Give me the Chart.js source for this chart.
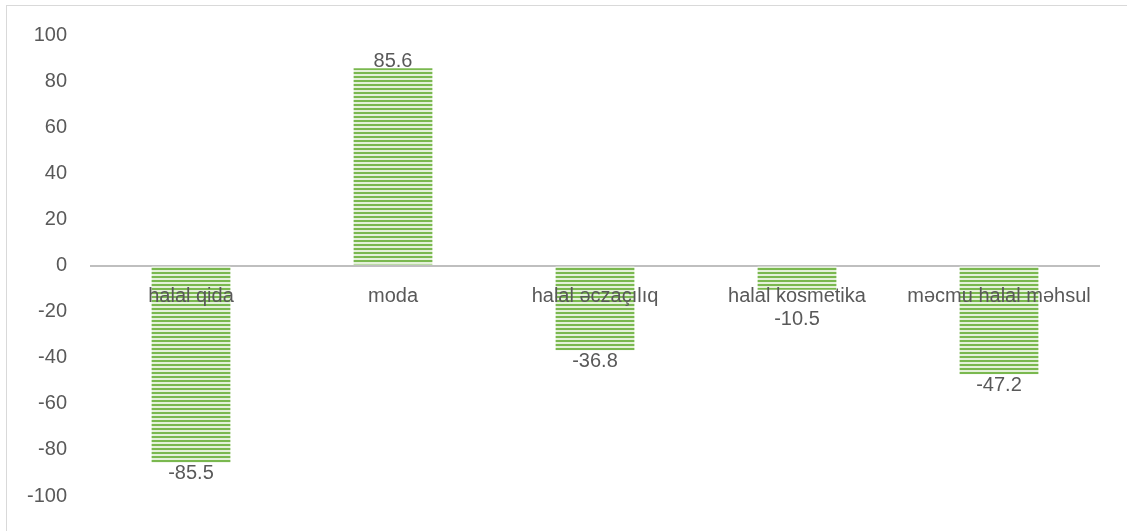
<!DOCTYPE html>
<html>
<head>
<meta charset="utf-8">
<script src="https://cdn.jsdelivr.net/npm/chart.js@4"></script>
<style>
  html, body { margin: 0; padding: 0; background: #fff; overflow: hidden; }
  #wrap { width: 1127px; height: 531px; overflow: hidden; }
  canvas { display: block; }
</style>
</head>
<body>
<div id="wrap"><canvas id="chart" width="1127" height="531"></canvas></div>
<script>
const categories = ["halal qida", "moda", "halal əczaçılıq", "halal kosmetika", "məcmu halal məhsul"];
const values = [-85.5, 85.6, -36.8, -10.5, -47.2];
const yTicks = [100, 80, 60, 40, 20, 0, -20, -40, -60, -80, -100];

const FONT = "'Liberation Sans', Arial, sans-serif";
const TEXT = "#595959";

// striped fill like the original
function stripes() {
  const c = document.createElement("canvas");
  c.width = 4; c.height = 4;
  const g = c.getContext("2d");
  g.fillStyle = "#e4f1da";
  g.fillRect(0, 0, 4, 4);
  g.fillStyle = "#7ab84f";
  g.fillRect(0, 0, 4, 2);
  return g.createPattern(c, "repeat");
}

const frame = {
  id: "frame",
  beforeDraw(chart) {
    const ctx = chart.ctx;
    ctx.save();
    ctx.strokeStyle = "#d9d9d9";
    ctx.lineWidth = 1;
    ctx.strokeRect(6.5, 5.5, 1200, 600);
    ctx.restore();
  },
  afterDatasetsDraw(chart) {
    const ctx = chart.ctx;
    const meta = chart.getDatasetMeta(0);
    const zero = chart.scales.y.getPixelForValue(0);
    ctx.save();
    ctx.font = "20px " + FONT;
    ctx.fillStyle = TEXT;
    ctx.textAlign = "center";
    // category names sit on top of the bars, just under the zero line
    ctx.textBaseline = "middle";
    meta.data.forEach((bar, i) => {
      ctx.fillText(categories[i], bar.x, zero + 31);
    });
    // value labels at the bar ends
    meta.data.forEach((bar, i) => {
      const v = values[i];
      if (v >= 0) {
        ctx.textBaseline = "bottom";
        ctx.fillText(v.toFixed(1), bar.x, bar.y + 3);
      } else {
        ctx.textBaseline = "top";
        let y = bar.y + 1;
        if (y < zero + 44) y = zero + 44; // keep clear of the category name
        ctx.fillText(v.toFixed(1), bar.x, y);
      }
    });
    ctx.restore();
  }
};

new Chart(document.getElementById("chart"), {
  type: "bar",
  data: {
    labels: categories,
    datasets: [{
      data: values,
      backgroundColor: stripes(),
      borderWidth: 0,
      barPercentage: 0.39,
      categoryPercentage: 1.0,
    }],
  },
  options: {
    responsive: false,
    animation: false,
    layout: { padding: { left: 0, right: 27, top: 34, bottom: 28 } },
    plugins: { legend: { display: false }, tooltip: { enabled: false } },
    scales: {
      x: { display: false },
      y: {
        min: -100, max: 100,
        afterFit(scale) { scale.width = 90; },
        afterBuildTicks(scale) { scale.ticks = yTicks.map(v => ({ value: v })); },
        // only the zero line is visible
        grid: {
          color: (c) => (c.tick && c.tick.value === 0 ? "#bfbfbf" : "rgba(0,0,0,0)"),
          lineWidth: 2,
          drawTicks: false,
        },
        border: { display: false },
        ticks: { color: TEXT, font: { family: FONT, size: 20 }, padding: 23 },
      },
    },
  },
  plugins: [frame],
});
</script>
</body>
</html>
